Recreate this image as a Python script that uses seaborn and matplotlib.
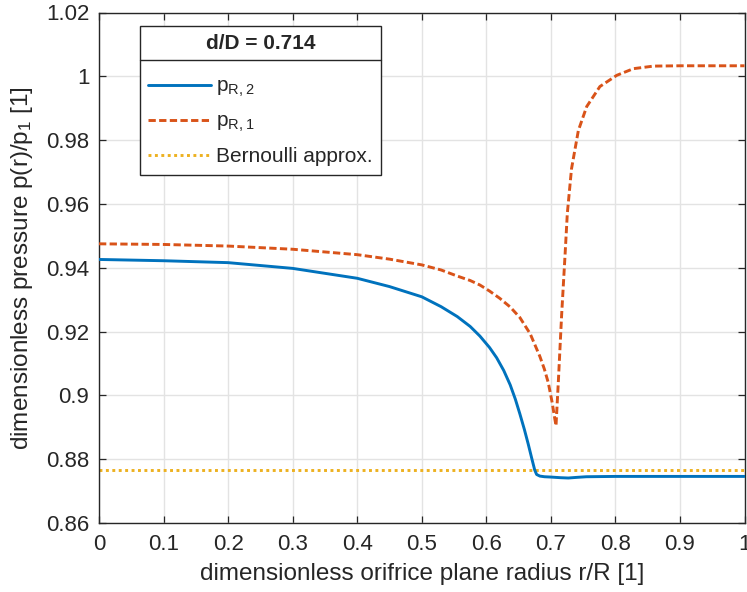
import numpy as np
import pandas as pd
import matplotlib
matplotlib.use("Agg")
import matplotlib.pyplot as plt
from matplotlib.lines import Line2D
from matplotlib.ticker import FuncFormatter
import seaborn as sns

# radial pressure profiles in the orifice plane, d/D = 0.714
r_p2 = [0.0, 0.1, 0.2, 0.3, 0.4, 0.45, 0.5, 0.53, 0.555, 0.575, 0.59, 0.605,
        0.616, 0.627, 0.637, 0.645, 0.652, 0.659, 0.665, 0.670, 0.675, 0.678,
        0.683, 0.69, 0.70, 0.715, 0.727, 0.74, 0.755, 0.8, 0.9, 1.0]
p_R2 = [0.9426, 0.9422, 0.9416, 0.9398, 0.9367, 0.9341, 0.9309, 0.9278, 0.9247,
        0.9216, 0.9186, 0.9150, 0.9118, 0.9078, 0.9033, 0.8988, 0.8942, 0.8893,
        0.8847, 0.8806, 0.8766, 0.8752, 0.8747, 0.8745, 0.8744, 0.8742, 0.8741,
        0.8743, 0.8745, 0.8746, 0.8746, 0.8746]

r_p1 = [0.0, 0.1, 0.2, 0.3, 0.4, 0.45, 0.5, 0.53, 0.555, 0.575, 0.59, 0.605,
        0.621, 0.637, 0.652, 0.668, 0.683, 0.690, 0.696, 0.702, 0.706, 0.708,
        0.7116, 0.7167, 0.722, 0.7255, 0.732, 0.7426, 0.7555, 0.776, 0.802,
        0.828, 0.859, 0.9, 1.0]
p_R1 = [0.9475, 0.9473, 0.9468, 0.9458, 0.9441, 0.9427, 0.9409, 0.9393, 0.9374,
        0.9360, 0.9346, 0.9327, 0.9304, 0.9277, 0.9244, 0.9193, 0.9122, 0.9082,
        0.9040, 0.8978, 0.8928, 0.8905, 0.9043, 0.9252, 0.9440, 0.9570, 0.9710,
        0.9830, 0.9905, 0.9968, 1.0003, 1.0024, 1.0032, 1.0033, 1.0033]

r_bern = [0.0, 1.0]
p_bern = [0.8765, 0.8765]

legend_title = "d/D = 0.714"
labels = [r"$\mathregular{p_{R,2}}$", r"$\mathregular{p_{R,1}}$", "Bernoulli approx."]
x_ticks = [0, 0.1, 0.2, 0.3, 0.4, 0.5, 0.6, 0.7, 0.8, 0.9, 1.0]
y_ticks = [0.86, 0.88, 0.90, 0.92, 0.94, 0.96, 0.98, 1.00, 1.02]

sns.set_theme(style="white")
plt.rcParams["font.family"] = ["Liberation Sans", "DejaVu Sans"]
plt.rcParams["mathtext.fontset"] = "custom"
plt.rcParams["mathtext.rm"] = "Liberation Sans"

c_blue, c_orange, c_yellow = "#0072BD", "#D95319", "#EDB120"
dark = "#262626"

fig = plt.figure(figsize=(7.47, 5.92), dpi=100)
ax = fig.add_axes([99 / 747, 1 - 523 / 592, 645.5 / 747, 510.5 / 592])

df2 = pd.DataFrame({"r": r_p2, "p": p_R2})
df1 = pd.DataFrame({"r": r_p1, "p": p_R1})
dfb = pd.DataFrame({"r": r_bern, "p": p_bern})

sns.lineplot(data=df2, x="r", y="p", ax=ax, color=c_blue, lw=2.1,
             label=labels[0], estimator=None, sort=False, zorder=3)
sns.lineplot(data=df1, x="r", y="p", ax=ax, color=c_orange, lw=2.1,
             label=labels[1], estimator=None, sort=False, zorder=3)
sns.lineplot(data=dfb, x="r", y="p", ax=ax, color=c_yellow, lw=2.1,
             label=labels[2], estimator=None, sort=False, zorder=2)
lines = ax.get_lines()
lines[1].set_dashes((2.5, 1.15))
lines[2].set_dashes((1.0, 1.2))
for ln in lines:
    ln.set_solid_joinstyle("round")
    ln.set_dash_joinstyle("round")

ax.set_xlim(0, 1)
ax.set_ylim(0.86, 1.02)
ax.set_xticks(x_ticks)
ax.set_yticks(y_ticks)
fmt = FuncFormatter(lambda v, _: f"{v:g}")
ax.xaxis.set_major_formatter(fmt)
ax.yaxis.set_major_formatter(fmt)

ax.grid(True, color="#e3e3e3", lw=1.0, zorder=0)
ax.set_axisbelow(True)
for s in ax.spines.values():
    s.set_visible(True)
    s.set_color(dark)
    s.set_linewidth(1.0)
ax.tick_params(axis="both", which="major", direction="in", length=5, width=0.9,
               color=dark, labelcolor=dark, labelsize=16, top=True, right=True,
               bottom=True, left=True)
ax.tick_params(axis="x", pad=8)
ax.tick_params(axis="y", pad=7)

ax.set_xlabel("dimensionless orifrice plane radius r/R [1]", fontsize=17.5,
              color=dark, labelpad=6)
ax.set_ylabel(r"dimensionless pressure p(r)/$\mathregular{p_1}$ [1]",
              fontsize=17.5, color=dark, labelpad=8)

leg = ax.legend(loc="upper left", bbox_to_anchor=(41 / 645.5, 1 - 13.5 / 510.5),
                title=legend_title, fontsize=15, frameon=True, fancybox=False,
                framealpha=1, edgecolor=dark, borderpad=0.4,
                handlelength=3.0, handletextpad=0.25, labelspacing=0.62,
                borderaxespad=0.0)
leg.get_title().set_fontweight("bold")
leg.get_title().set_fontsize(15)
leg.get_frame().set_linewidth(1.0)
leg._legend_box.sep = 17

# separator line below the legend title
fig.canvas.draw()
fb = leg.get_frame().get_window_extent()
tb = leg.get_title().get_window_extent()
y_sep = tb.y0 - 7
inv = fig.transFigure.inverted()
(x0, y0) = inv.transform((fb.x0, y_sep))
(x1, _) = inv.transform((fb.x1, y_sep))
fig.add_artist(Line2D([x0, x1], [y0, y0], transform=fig.transFigure,
                      color=dark, lw=1.0, zorder=10))

fig.savefig("out.png", dpi=100)
